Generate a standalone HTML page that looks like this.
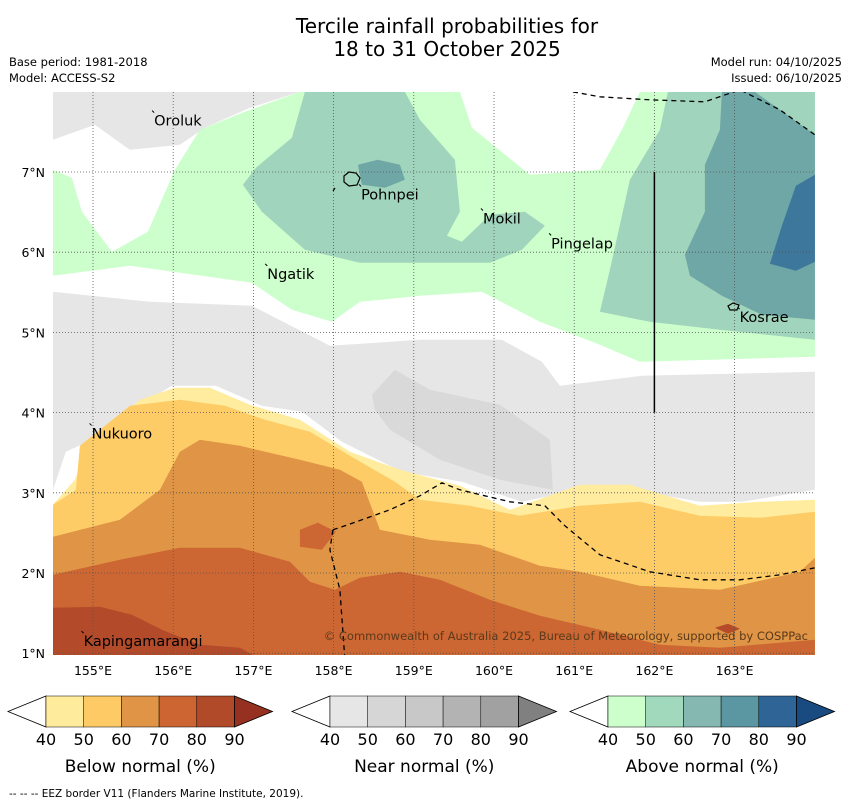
<!DOCTYPE html>
<html><head><meta charset="utf-8"><style>
body{margin:0;background:#fff;width:850px;height:804px;overflow:hidden;font-family:"DejaVu Sans","Liberation Sans",sans-serif}
svg{position:absolute;left:0;top:0}
</style></head><body>
<svg id="s" width="850" height="804" xmlns="http://www.w3.org/2000/svg" font-family="DejaVu Sans, Liberation Sans, sans-serif">
<text x="447" y="33" font-size="20" text-anchor="middle">Tercile rainfall probabilities for</text>
<text x="447" y="56" font-size="20" text-anchor="middle">18 to 31 October 2025</text>
<text x="9" y="66" font-size="11.5">Base period: 1981-2018</text>
<text x="9" y="82" font-size="11.5">Model: ACCESS-S2</text>
<text x="842" y="66" font-size="11.5" text-anchor="end">Model run: 04/10/2025</text>
<text x="842" y="82" font-size="11.5" text-anchor="end">Issued: 06/10/2025</text>
<defs><clipPath id="mc"><rect x="53" y="92" width="762" height="563"/></clipPath></defs>
<g id="map" clip-path="url(#mc)"></g>
<g id="axes"></g>
<g id="leg"></g>
<text x="9" y="797" font-size="10.5">--  --  -- EEZ border V11 (Flanders Marine Institute, 2019).</text>
</svg>
<script>
const lonTicks=[155,156,157,158,159,160,161,162,163];
const latTicks=[1,2,3,4,5,6,7];
const cityNames=["Oroluk","Pohnpei","Mokil","Pingelap","Ngatik","Kosrae","Nukuoro","Kapingamarangi"];
const cityLon=[155.75,158.33,159.85,160.7,157.16,163.05,154.97,154.87];
const cityLat=[7.74,6.82,6.52,6.21,5.83,5.29,3.84,1.25];
const belowLabels=["40","50","60","70","80","90"];

const X=lon=>93+(lon-155)*80.2;
const Y=lat=>172+(7-lat)*80.2;
const px=(x)=>154.5+(x-53)/80.2, py=(y)=>8-(y-92)/80.2;
function P(a){const o=[];for(let i=0;i<a.length;i+=2)o.push([+px(a[i]).toFixed(3),+py(a[i+1]).toFixed(3)]);return o;}
const regions=[
 ["#e6e6e6","gray-top-left",P([53,92,300,92,250,108,205,128,180,145,130,150,95,125,53,140])],
 ["#ccffcc","above-40-50",P([53,170,72,178,82,212,112,252,148,232,175,170,200,130,245,112,300,92,460,92,472,128,530,175,600,170,622,130,640,92,815,92,815,357,640,362,600,345,540,322,482,292,420,296,360,302,332,322,292,310,252,283,130,266,53,276])],
 ["#ffffff","white-gap",P([122,180,127,180,127,215,122,215])],
 ["#a1d4bc","above-50-60",P([305,92,405,92,420,120,455,160,460,212,447,236,462,242,490,215,525,212,545,226,522,250,490,263,420,263,360,263,305,250,262,212,243,185,256,168,292,138])],
 ["#a1d4bc","above-50-60-east",P([668,92,815,92,815,340,720,330,650,322,600,312,610,270,630,180,660,130])],
 ["#6fa6a6","above-60-70-east",P([722,92,755,92,815,135,815,320,762,315,722,296,690,276,685,255,705,212,705,165,720,130])],
 ["#6fa6a6","above-60-70-pohnpei",P([358,165,378,160,400,165,405,180,385,188,362,185])],
 ["#3e779c","above-70-80-east",P([815,175,796,186,782,226,770,264,796,271,815,262])],
 ["#e6e6e6","near-40-50",P([53,292,150,302,252,306,330,346,420,340,502,340,542,362,560,386,642,376,815,372,815,490,742,502,700,502,642,492,600,486,522,502,462,482,402,472,342,442,302,412,262,406,216,386,172,386,132,410,92,440,66,452,53,490])],
 ["#d9d9d9","near-50-60",P([372,395,395,370,430,390,500,405,550,440,553,490,500,480,440,460,390,430,375,410])],
 ["#ffec9e","below-40-50",P([53,505,75,480,90,440,140,400,175,388,210,388,250,405,300,420,350,452,400,470,460,486,510,510,580,485,630,485,700,506,760,502,815,500,815,660,53,660])],
 ["#fecc66","below-50-60",P([53,505,76,490,80,446,130,406,180,400,225,406,265,420,310,432,350,456,395,482,420,500,470,506,520,516,580,506,640,502,700,516,760,518,815,512,815,660,53,660])],
 ["#e09445","below-60-70",P([53,537,120,520,160,490,180,452,200,440,240,446,300,460,340,470,362,482,380,530,430,540,480,545,540,566,580,572,640,586,720,590,800,572,815,558,815,660,53,660])],
 ["#cc6633","below-70-80",P([53,575,120,560,180,548,240,548,290,562,310,582,335,590,360,578,400,572,440,580,490,600,540,616,600,630,660,645,720,648,815,640,815,660,53,660])],
 ["#cc6633","below-70-80-blob",P([300,530,318,523,336,532,322,550,300,547])],
 ["#b34a2a","below-80-90",P([53,608,100,607,132,615,162,630,200,645,240,648,262,660,53,660])],
 ["#b34a2a","below-80-90-blob",P([715,628,728,624,740,629,728,634])]
];
const eez=[P([333,530,345,526,390,510,420,496,442,483,460,490,510,502,545,506,565,526,600,555,650,572,700,580,740,580,780,575,815,568]),
 P([333,530,330,550,340,590,345,660]),P([573,92,600,97,650,100,705,102,740,90,780,110,815,135])];

const NS="http://www.w3.org/2000/svg";
function mk(t,a,p){const e=document.createElementNS(NS,t);for(const k in a)e.setAttribute(k,a[k]);p.appendChild(e);return e;}
const map=document.getElementById('map'),axes=document.getElementById('axes'),leg=document.getElementById('leg');
regions.forEach(r=>{const e=mk('polygon',{points:r[2].map(p=>X(p[0]).toFixed(1)+','+Y(p[1]).toFixed(1)).join(' '),fill:r[0]},map);

});
lonTicks.forEach(l=>{const e=mk('line',{x1:X(l),x2:X(l),y1:92,y2:655,stroke:'#555','stroke-width':0.8,'stroke-dasharray':'1,2'},map);


const t=mk('text',{x:X(l),y:675,'font-size':12.5,'text-anchor':'middle'},axes);t.textContent=l+'°E';

});
latTicks.forEach(l=>{const e=mk('line',{x1:53,x2:815,y1:Y(l),y2:Y(l),stroke:'#555','stroke-width':0.8,'stroke-dasharray':'1,2'},map);


const t=mk('text',{x:45,y:Y(l)+5,'font-size':12.5,'text-anchor':'end'},axes);t.textContent=l+'°N';

});
eez.forEach(l=>{const e=mk('polyline',{points:l.map(p=>X(p[0]).toFixed(1)+','+Y(p[1]).toFixed(1)).join(' '),fill:'none',stroke:'#000','stroke-width':1.3,'stroke-dasharray':'5,4'},map);

});
{const e=mk('line',{x1:X(162),x2:X(162),y1:Y(7),y2:Y(4),stroke:'#000','stroke-width':1.5},map);

}
{const e=mk('path',{d:'M344,176 l5,-4 l7,1 l4,5 l-3,7 l-8,1 l-5,-4 z M335,188 l-2,3',fill:'none',stroke:'#000','stroke-width':1.2},map);


const k=mk('path',{d:'M728,306 l5,-3 l6,2 l-2,5 l-7,0 z',fill:'none',stroke:'#000','stroke-width':1.2},map);

}
cityNames.forEach((n,i)=>{const x=X(cityLon[i]),y=Y(cityLat[i]);
const d=mk('line',{x1:x-1,y1:y-2,x2:x+1,y2:y,stroke:'#000','stroke-width':1},map);


const t=mk('text',{x:x+1,y:y+13,'font-size':14.5},map);t.textContent=n;

});
{const t=mk('text',{x:808,y:640,'font-size':11.5,'text-anchor':'end',fill:'#5a3a1a'},map);t.textContent='© Commonwealth of Australia 2025, Bureau of Meteorology, supported by COSPPac';

}
const bars=[
 {x:8,title:'Below normal (%)',cols:['#ffeb9c','#fdca65','#e09445','#cd6532','#b14a28'],end:'#963020',n:'below'},
 {x:292,title:'Near normal (%)',cols:['#e6e6e6','#d6d6d6','#c8c8c8','#b3b3b3','#a1a1a1'],end:'#808080',n:'near'},
 {x:570,title:'Above normal (%)',cols:['#ccffcc','#a1d9bc','#84b8b0','#5b96a3','#2e6496'],end:'#194a80',n:'above'}];
bars.forEach(b=>{const g=mk('g',{},leg);


const x0=b.x+38,w=37.7;
mk('polygon',{points:`${b.x},711.5 ${x0},696 ${x0},727`,fill:'#fff',stroke:'#000','stroke-width':0.8},g);
b.cols.forEach((c,i)=>mk('rect',{x:x0+i*w,y:696,width:w,height:31,fill:c,stroke:'#000','stroke-width':0.5},g));
const xe=x0+5*w;
mk('polygon',{points:`${xe},696 ${xe+38},711.5 ${xe},727`,fill:b.end,stroke:'#000','stroke-width':0.8},g);
belowLabels.forEach((l,i)=>{const t=mk('text',{x:x0+i*w,y:745,'font-size':16,'text-anchor':'middle'},g);t.textContent=l;});
const t=mk('text',{x:x0+2.5*w,y:772,'font-size':17,'text-anchor':'middle'},g);t.textContent=b.title;

});
</script>
</body></html>
